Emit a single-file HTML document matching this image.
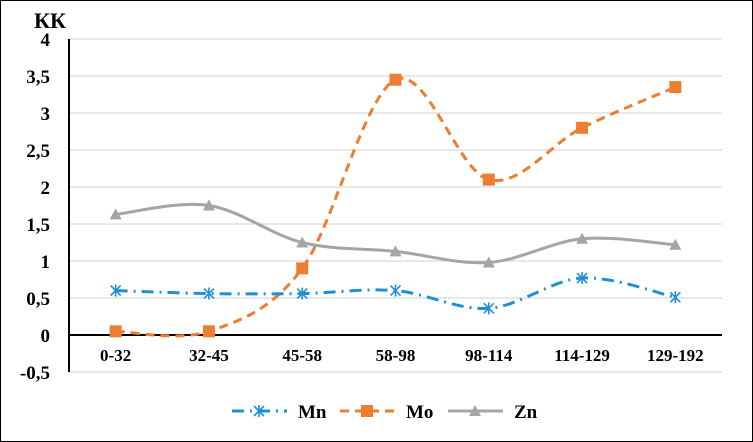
<!DOCTYPE html>
<html><head><meta charset="utf-8"><style>
html,body{margin:0;padding:0;background:#fff}
svg{display:block;font-family:"Liberation Serif",serif;font-weight:bold}
</style></head><body>
<svg id="c" width="753" height="442" viewBox="0 0 753 442">
<rect x="0.5" y="0.5" width="752" height="441" fill="#fff" stroke="#000"/>
<text x="50" y="28" font-size="22" text-anchor="middle">КК</text>
<g id="grid"></g><g id="series"></g><g id="legend"></g>
</svg>
<script>
const categories=["0-32","32-45","45-58","58-98","98-114","114-129","129-192"];
const mn=[0.6,0.56,0.56,0.6,0.36,0.77,0.51];
const mo=[0.05,0.05,0.9,3.45,2.1,2.8,3.35];
const zn=[1.63,1.75,1.25,1.13,0.98,1.3,1.22];
const yTicks=[-0.5,0,0.5,1,1.5,2,2.5,3,3.5,4];
const yTickLabels=["-0,5","0","0,5","1","1,5","2","2,5","3","3,5","4"];
const NS="http://www.w3.org/2000/svg";
const X0=69,X1=722,Y0=335,PU=74;
const y=v=>Y0-v*PU;
const x=i=>X0+(X1-X0)/categories.length*(i+0.5);
function mk(t,a,p){const e=document.createElementNS(NS,t);for(const k in a)e.setAttribute(k,a[k]);p.appendChild(e);return e;}
const grid=document.getElementById('grid');
yTicks.forEach((v,i)=>{
 if(v!==0){const l=mk('line',{x1:X0,x2:X1,y1:y(v),y2:y(v),stroke:'#d9d9d9','stroke-width':1.3},grid);
 
 }
 const t=mk('text',{x:50,y:y(v)+7,'font-size':19,'text-anchor':'end'},grid);t.textContent=yTickLabels[i];
 
 
});
const ya=mk('line',{x1:X0,x2:X0,y1:y(4),y2:y(-0.5),stroke:'#000','stroke-width':2},grid);


const xa=mk('line',{x1:X0,x2:X1,y1:Y0,y2:Y0,stroke:'#000','stroke-width':2},grid);


categories.forEach((c,i)=>{const t=mk('text',{x:x(i),y:361,'font-size':17,'text-anchor':'middle'},grid);t.textContent=c;
 
 });
function path(vals){const p=vals.map((v,i)=>[x(i),y(v)]);let d=`M${p[0][0]},${p[0][1]}`;
 for(let i=0;i<p.length-1;i++){const a=p[Math.max(i-1,0)],b=p[i],c=p[i+1],e=p[Math.min(i+2,p.length-1)];const k=6;
 d+=` C${b[0]+(c[0]-a[0])/k},${b[1]+(c[1]-a[1])/k} ${c[0]-(e[0]-b[0])/k},${c[1]-(e[1]-b[1])/k} ${c[0]},${c[1]}`;}return d;}
const sg=document.getElementById('series');
function marker(kind,cx,cy,col,g){
 if(kind==='sq')return mk('rect',{x:cx-6,y:cy-6,width:12,height:12,fill:col},g);
 if(kind==='tri')return mk('polygon',{points:`${cx},${cy-6} ${cx+6},${cy+5} ${cx-6},${cy+5}`,fill:col},g);
 const s=mk('g',{stroke:col,'stroke-width':1.6},g);
 mk('line',{x1:cx-5,y1:cy-5,x2:cx+5,y2:cy+5},s);mk('line',{x1:cx-5,y1:cy+5,x2:cx+5,y2:cy-5},s);mk('line',{x1:cx,y1:cy-6,x2:cx,y2:cy+6},s);return s;}
const series=[["zn",zn,'#a5a5a5','none','tri'],["mo",mo,'#ed7d31','9 6','sq'],["mn",mn,'#1f8fd6','12 6 2 6','star']];
series.forEach(([n,vals,col,dash,mkr])=>{
 const g=mk('g',{},sg);
 
 
 const ln=mk('path',{d:path(vals),fill:'none',stroke:col,'stroke-width':3,'stroke-dasharray':dash},g);
 
 
 vals.forEach((v,i)=>{const m=marker(mkr,x(i),y(v),col,g);
 
 });
});
const lg=document.getElementById('legend');
[["Mn",'#1f8fd6','12 6 2 6','star',232],["Mo",'#ed7d31','9 6','sq',340],["Zn",'#a5a5a5','none','tri',448]].forEach(([n,col,dash,mkr,lx])=>{
 const g=mk('g',{},lg);
 
 
 mk('line',{x1:lx,x2:lx+55,y1:411,y2:411,stroke:col,'stroke-width':3,'stroke-dasharray':dash},g);
 marker(mkr,lx+27,411,col,g);
 const t=mk('text',{x:lx+66,y:418,'font-size':19},g);t.textContent=n;
});
</script>
</body></html>
